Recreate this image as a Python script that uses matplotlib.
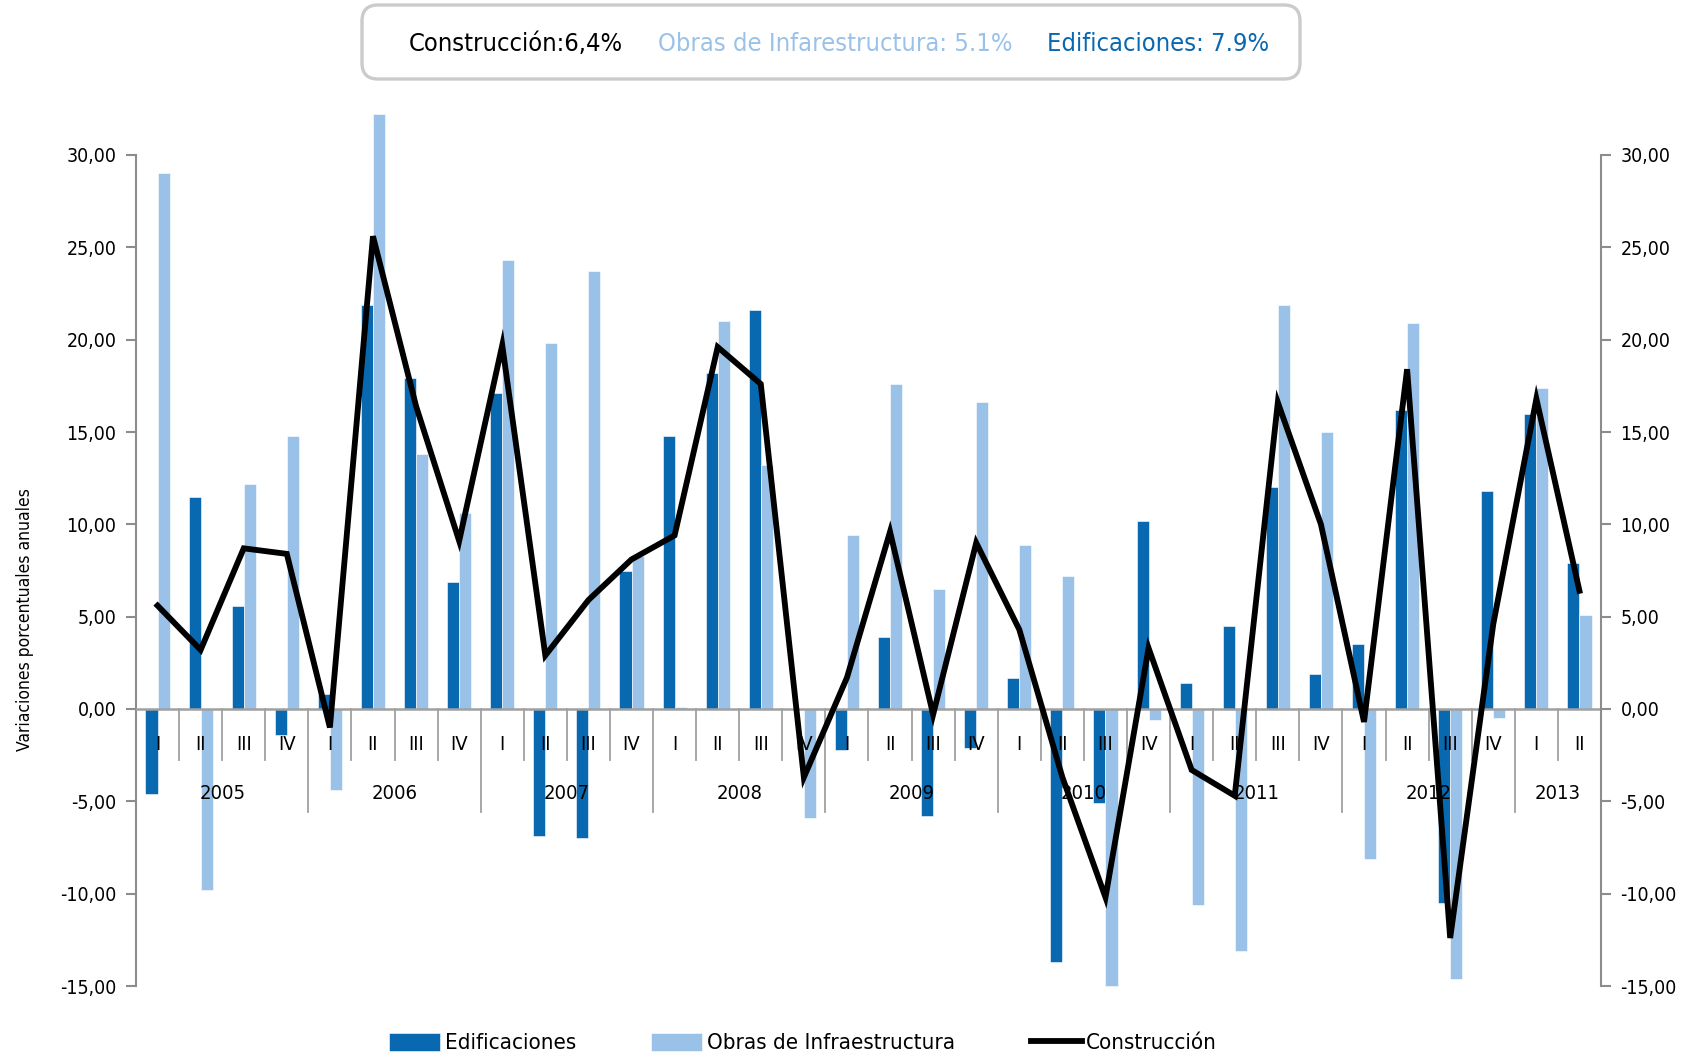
import matplotlib
matplotlib.use("Agg")
import matplotlib.pyplot as plt
from matplotlib import font_manager
from matplotlib.patches import FancyBboxPatch
from matplotlib.transforms import IdentityTransform
import numpy as np

# ---------------- data ----------------
quarters = ['I', 'II', 'III', 'IV'] * 8 + ['I', 'II']
years = ['2005', '2006', '2007', '2008', '2009', '2010', '2011', '2012', '2013']
edificaciones = [-4.6, 11.5, 5.6, -1.4, 0.8, 21.9, 17.9, 6.9,
                 17.1, -6.9, -7.0, 7.5, 14.8, 18.2, 21.6, 0.0,
                 -2.2, 3.9, -5.8, -2.1, 1.7, -13.7, -5.1, 10.2,
                 1.4, 4.5, 12.0, 1.9, 3.5, 16.2, -10.5, 11.8,
                 16.0, 7.9]
obras = [29.0, -9.8, 12.2, 14.8, -4.4, 32.2, 13.8, 10.6,
         24.3, 19.8, 23.7, 8.3, 0.1, 21.0, 13.2, -5.9,
         9.4, 17.6, 6.5, 16.6, 8.9, 7.2, -15.0, -0.6,
         -10.6, -13.1, 21.9, 15.0, -8.1, 20.9, -14.6, -0.5,
         17.4, 5.1]
construccion = [5.6, 3.2, 8.7, 8.4, -1.0, 25.6, 16.4, 9.1,
                19.7, 2.9, 5.9, 8.1, 9.4, 19.6, 17.6, -3.7,
                1.7, 9.6, -0.3, 9.0, 4.3, -3.7, -10.2, 3.3,
                -3.3, -4.7, 16.6, 10.0, -0.7, 18.4, -12.4, 4.6,
                16.8, 6.4]
yticks = [-15, -10, -5, 0, 5, 10, 15, 20, 25, 30]

C_DARK = '#0868b0'
C_LIGHT = '#9ac2e9'

# ---------------- fonts ----------------
avail = {f.name for f in font_manager.fontManager.ttflist}
if 'Liberation Sans Narrow' in avail:
    NARROW = ['Liberation Sans Narrow', 'DejaVu Sans']
    STRETCH = 'normal'
else:
    NARROW = ['DejaVu Sans']
    STRETCH = 'condensed'
plt.rcParams['font.family'] = NARROW

W, H = 1695, 1055
fig = plt.figure(figsize=(W / 100, H / 100), dpi=100)
ax = fig.add_axes([136 / W, 69 / H, (1601 - 136) / W, (986 - 155) / H])

n = len(quarters)
x = np.arange(n)
bw = 0.28
b1 = ax.bar(x - bw / 2, edificaciones, bw, color=C_DARK, edgecolor='white',
            linewidth=0.4, label='Edificaciones', clip_on=False, zorder=2)
b2 = ax.bar(x + bw / 2, obras, bw, color=C_LIGHT, edgecolor='white',
            linewidth=0.4, label='Obras de Infraestructura', clip_on=False, zorder=2)
ln, = ax.plot(x, construccion, color='black', lw=4.2, label='Construcción',
              zorder=4, solid_joinstyle='miter')

TICK_FS = 14
ax.set_xlim(-0.5, n - 0.5)
ax.set_ylim(-15, 30)
ax.set_yticks(yticks)
ax.set_yticklabels([f"{v:,.2f}".replace('.', ',') for v in yticks],
                   fontsize=TICK_FS, fontstretch=STRETCH)
ax.set_xticks([])
for s in ['top', 'bottom', 'right']:
    ax.spines[s].set_visible(False)
ax.spines['left'].set_color('#8c8c8c')
ax.spines['left'].set_linewidth(1.5)
ax.tick_params(axis='y', direction='out', length=7, width=1.5, color='#8c8c8c', pad=7)

ax2 = ax.twinx()
ax2.set_ylim(-15, 30)
ax2.set_yticks(yticks)
ax2.set_yticklabels([f"{v:,.2f}".replace('.', ',') for v in yticks],
                    fontsize=TICK_FS, fontstretch=STRETCH)
for s in ['top', 'bottom', 'left']:
    ax2.spines[s].set_visible(False)
ax2.spines['right'].set_color('#8c8c8c')
ax2.spines['right'].set_linewidth(1.5)
ax2.tick_params(axis='y', direction='out', length=7, width=1.5, color='#8c8c8c', pad=7)

# zero axis line
ax.axhline(0, color='#a0a0a0', lw=1.8, zorder=3)

# category separators
for i in range(1, n):
    long_sep = (i % 4 == 0)
    ax.plot([i - 0.5, i - 0.5], [0, -5.6 if long_sep else -2.75],
            color='#a0a0a0', lw=1.3, zorder=1, clip_on=False)
ax.plot([-0.5, -0.5], [0, -5.6], color='#a0a0a0', lw=1.3, zorder=1, clip_on=False)

# quarter labels
for i, q in enumerate(quarters):
    ax.text(i, -1.9, q, ha='center', va='center', fontsize=TICK_FS + 0.5,
            fontstretch=STRETCH, zorder=5)
# year labels
for k, yr in enumerate(years):
    start = 4 * k
    end = min(start + 3, n - 1)
    ax.text((start + end) / 2, -4.6, yr, ha='center', va='center',
            fontsize=TICK_FS + 0.5, fontstretch=STRETCH, zorder=5)

# y label
fig.text(25 / W, 1 - 620 / H, 'Variaciones porcentuales anuales', rotation=90,
         ha='center', va='center', fontsize=12.5, family=['DejaVu Sans'],
         fontstretch='condensed')

# title box
box = FancyBboxPatch((362, H - 79), 938, 74,
                     boxstyle='round,pad=0,rounding_size=16',
                     transform=IdentityTransform(), facecolor='white',
                     edgecolor='#cbcbcb', linewidth=2.4)
fig.add_artist(box)
ty = 1 - 44 / H
TFS = 18.3
fig.text(516 / W, ty, 'Construcción:6,4%', ha='center', va='center',
         fontsize=TFS, color='black', fontstretch=STRETCH)
fig.text(835 / W, ty, 'Obras de Infarestructura: 5.1%', ha='center', va='center',
         fontsize=TFS, color=C_LIGHT, fontstretch=STRETCH)
fig.text(1158 / W, ty, 'Edificaciones: 7.9%', ha='center', va='center',
         fontsize=TFS, color=C_DARK, fontstretch=STRETCH)

# legend
leg = fig.legend(handles=[b1, b2, ln], loc='center',
                 bbox_to_anchor=(803 / W, 1 - 1043 / H), ncol=3, frameon=False,
                 prop={'size': 16, 'stretch': STRETCH}, handlelength=2.3,
                 handleheight=0.9, handletextpad=0.2, columnspacing=3.4,
                 borderpad=0)

fig.savefig('out.png', dpi=100)
